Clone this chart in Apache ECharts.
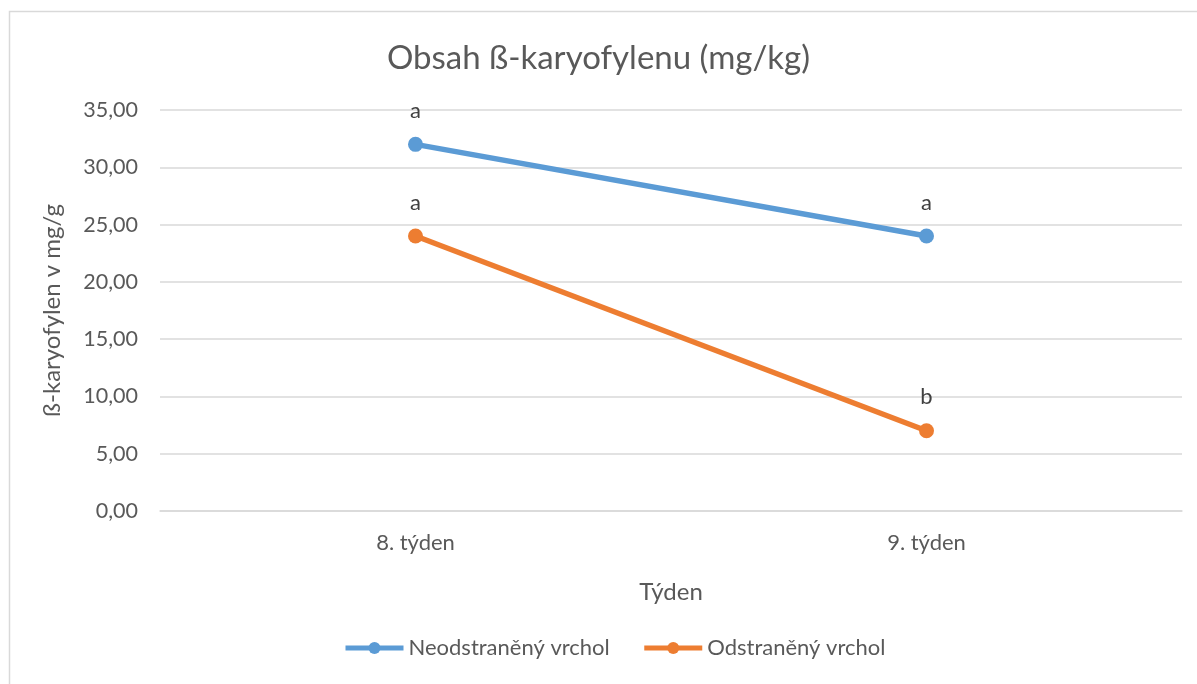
<!DOCTYPE html>
<html>
<head>
<meta charset="utf-8">
<script src="https://cdn.jsdelivr.net/npm/echarts@6/dist/echarts.min.js"></script>
<style>
    html, body { margin: 0; padding: 0; background: #fff; }
    #chart { width: 1197px; height: 684px; }
</style>
</head>
<body>
<div id="chart"></div>
<script>
// data
const weeks = ['8. týden', '9. týden'];
const neodstraneny = [32.0, 24.0];
const odstraneny = [24.0, 7.0];
const neodstranenyLabels = ['a', 'a'];
const odstranenyLabels = ['a', 'b'];
const yTicks = { min: 0, max: 35, interval: 5 };

const textColor = '#595959';
const font = 'Lato, "Open Sans", sans-serif';

const chart = echarts.init(document.getElementById('chart'));

function makeSeries(name, values, labels, color) {
    return {
        name: name,
        type: 'line',
        data: values,
        color: color,
        symbol: 'circle',
        symbolSize: 15,
        lineStyle: { width: 5.5, color: color },
        itemStyle: { color: color },
        label: {
            show: true,
            position: 'top',
            distance: 15,
            color: '#404040',
            fontFamily: font,
            fontSize: 22,
            formatter: p => labels[p.dataIndex]
        }
    };
}

const option = {
    animation: false,
    backgroundColor: '#fff',
    textStyle: { fontFamily: font },
    title: {
        text: 'Obsah ß-karyofylenu (mg/kg)',
        left: 'center',
        top: 37,
        textStyle: { color: textColor, fontFamily: font, fontSize: 33, fontWeight: 'normal' }
    },
    // light frame of the chart area
    graphic: [{
        type: 'rect',
        shape: { x: 9.5, y: 11.5, width: 1300, height: 800 },
        style: { fill: 'none', stroke: '#d9d9d9', lineWidth: 1.5 },
        silent: true
    }],
    grid: {
        left: 160,
        right: 15,
        top: 110,
        bottom: 173
    },
    xAxis: {
        type: 'category',
        data: weeks,
        boundaryGap: true,
        name: 'Týden',
        nameLocation: 'middle',
        nameGap: 69,
        nameTextStyle: { color: textColor, fontSize: 24, fontFamily: font },
        axisLine: { show: true, lineStyle: { color: '#d9d9d9', width: 1.5 } },
        axisTick: { show: false },
        axisLabel: { color: textColor, fontSize: 22, fontFamily: font, margin: 21 }
    },
    yAxis: {
        type: 'value',
        min: yTicks.min,
        max: yTicks.max,
        interval: yTicks.interval,
        name: 'ß-karyofylen v mg/g',
        nameLocation: 'middle',
        nameGap: 96,
        nameTextStyle: { color: textColor, fontSize: 24, fontFamily: font },
        axisLine: { show: false },
        axisTick: { show: false },
        axisLabel: {
            color: textColor,
            fontSize: 21.5,
            fontFamily: font,
            margin: 22,
            formatter: v => v.toFixed(2).replace('.', ',')
        },
        splitLine: { lineStyle: { color: '#d9d9d9', width: 1.5 } }
    },
    legend: {
        bottom: 20,
        left: 338,
        itemWidth: 58,
        itemHeight: 15,
        itemGap: 32,
        lineStyle: { width: 5 },
        textStyle: { color: textColor, fontSize: 22, fontFamily: font },
        data: ['Neodstraněný vrchol', 'Odstraněný vrchol']
    },
    series: [
        makeSeries('Neodstraněný vrchol', neodstraneny, neodstranenyLabels, '#5b9bd5'),
        makeSeries('Odstraněný vrchol', odstraneny, odstranenyLabels, '#ed7d31')
    ]
};

chart.setOption(option);
</script>
</body>
</html>
